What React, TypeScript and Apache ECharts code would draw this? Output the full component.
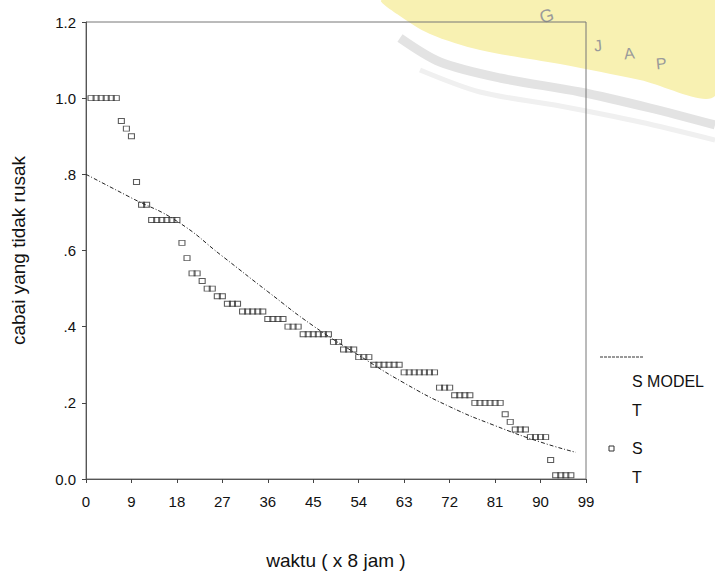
import React, { useEffect, useRef } from "react";
import * as echarts from "echarts";

// Observed S (scatter) values
const sX = [1, 2, 3, 4, 5, 6, 7, 8, 9, 10, 11, 12, 13, 14, 15, 16, 17, 18, 19, 20, 21, 22, 23, 24, 25, 26, 27, 28, 29, 30,
  31, 32, 33, 34, 35, 36, 37, 38, 39, 40, 41, 42, 43, 44, 45, 46, 47, 48, 49, 50, 51, 52, 53, 54, 55, 56, 57, 58, 59, 60,
  61, 62, 63, 64, 65, 66, 67, 68, 69, 70, 71, 72, 73, 74, 75, 76, 77, 78, 79, 80, 81, 82, 83, 84, 85, 86, 87, 88, 89, 90,
  91, 92, 93, 94, 95, 96];
const sY = [1.0, 1.0, 1.0, 1.0, 1.0, 1.0, 0.94, 0.92, 0.9, 0.78, 0.72, 0.72, 0.68, 0.68, 0.68, 0.68, 0.68, 0.68, 0.62, 0.58,
  0.54, 0.54, 0.52, 0.5, 0.5, 0.48, 0.48, 0.46, 0.46, 0.46, 0.44, 0.44, 0.44, 0.44, 0.44, 0.42, 0.42, 0.42, 0.42, 0.4,
  0.4, 0.4, 0.38, 0.38, 0.38, 0.38, 0.38, 0.38, 0.36, 0.36, 0.34, 0.34, 0.34, 0.32, 0.32, 0.32, 0.3, 0.3, 0.3, 0.3,
  0.3, 0.3, 0.28, 0.28, 0.28, 0.28, 0.28, 0.28, 0.28, 0.24, 0.24, 0.24, 0.22, 0.22, 0.22, 0.22, 0.2, 0.2, 0.2, 0.2,
  0.2, 0.2, 0.17, 0.15, 0.13, 0.13, 0.13, 0.11, 0.11, 0.11, 0.11, 0.05, 0.01, 0.01, 0.01, 0.01];

// Model curve read-off points
const mX = [0, 9, 18, 27, 36, 45, 54, 63, 72, 81, 90, 97];
const mY = [0.8, 0.738, 0.677, 0.585, 0.492, 0.402, 0.325, 0.252, 0.19, 0.14, 0.097, 0.07];

const xTicks = { min: 0, max: 99, interval: 9 };
const yTicks = { min: 0, max: 1.2, interval: 0.2 };

const yAxisTitle = "cabai yang tidak rusak";
const xAxisTitle = "waktu ( x 8 jam )";
const legendLine = ["S MODEL", "T"];
const legendMark = ["S", "T"];

const FONT = "'Liberation Sans', Arial, sans-serif";

export default function App() {
  const ref = useRef<HTMLDivElement>(null);
  useEffect(() => {
    if (!ref.current) return;
    const chart = echarts.init(ref.current, null, { renderer: "svg" });
    const txt = (text: string, x: number, y: number, size = 15, extra: any = {}) => ({
      type: "text",
      x,
      y,
      style: { text, fill: "#111", font: `${size}px ${FONT}`, textVerticalAlign: "middle", ...extra },
    });
    chart.setOption({
      animation: false,
      backgroundColor: "#fff",
      grid: {
        left: 86,
        right: 129,
        top: 22,
        bottom: 84,
        show: true,
        borderColor: "#777",
        borderWidth: 1,
      },
      xAxis: {
        type: "value",
        ...xTicks,
        name: xAxisTitle,
        nameLocation: "middle",
        nameGap: 72,
        nameTextStyle: { fontSize: 19, color: "#111", fontFamily: FONT },
        axisLine: { show: true, onZero: false, lineStyle: { color: "#555", width: 1 } },
        axisTick: { show: true, length: 4, lineStyle: { color: "#444" } },
        axisLabel: { fontSize: 15, color: "#111", fontFamily: FONT, margin: 15 },
        splitLine: { show: false },
      },
      yAxis: {
        type: "value",
        ...yTicks,
        name: yAxisTitle,
        nameLocation: "middle",
        nameGap: 58,
        nameRotate: 90,
        nameTextStyle: { fontSize: 19, color: "#111", fontFamily: FONT },
        axisLine: { show: true, onZero: false, lineStyle: { color: "#555", width: 1 } },
        axisTick: { show: true, length: 4, lineStyle: { color: "#444" } },
        axisLabel: {
          fontSize: 15,
          color: "#111",
          fontFamily: FONT,
          margin: 10,
          formatter: (v: number) => {
            if (v === 0) return "0.0";
            const s = v.toFixed(1);
            return v < 1 ? s.replace(/^0/, "") : s;
          },
        },
        splitLine: { show: false },
      },
      graphic: [
        {
          type: "polygon",
          silent: true,
          z: -10,
          shape: {
            smooth: 0.3,
            points: [[382, 0], [715, 0], [715, 96], [640, 80], [560, 64], [480, 50], [430, 34], [397, 14]],
          },
          style: { fill: "#f8f1b2" },
        },
        {
          type: "polyline",
          silent: true,
          z: -9,
          shape: { smooth: 0.3, points: [[400, 38], [440, 62], [500, 78], [580, 92], [650, 108], [715, 125]] },
          style: { stroke: "#e3e3e3", lineWidth: 9, fill: null },
        },
        {
          type: "polyline",
          silent: true,
          z: -9,
          shape: { smooth: 0.3, points: [[420, 70], [480, 92], [560, 106], [640, 122], [715, 140]] },
          style: { stroke: "#f0f0f0", lineWidth: 5, fill: null },
        },
        { ...txt("G", 540, 18, 18, { fill: "#9a9a9a" }), rotation: 0.3, z: -8 },
        { ...txt("J", 594, 46, 16, { fill: "#9a9a9a" }), rotation: 0.1, z: -8 },
        { ...txt("A", 624, 54, 16, { fill: "#9a9a9a" }), rotation: 0.1, z: -8 },
        { ...txt("P", 656, 64, 16, { fill: "#9a9a9a" }), rotation: 0.1, z: -8 },
        {
          type: "line",
          shape: { x1: 600, y1: 357, x2: 643, y2: 357 },
          style: { stroke: "#333", lineWidth: 1, lineDash: [3, 1] },
        },
        txt(legendLine[0], 632, 381, 16),
        txt(legendLine[1], 632, 410, 16),
        {
          type: "rect",
          shape: { x: 609, y: 446, width: 5, height: 5 },
          style: { fill: "none", stroke: "#333", lineWidth: 1 },
        },
        txt(legendMark[0], 632, 448, 16),
        txt(legendMark[1], 632, 477, 16),
      ],
      series: [
        {
          name: "S MODEL T",
          type: "line",
          data: mX.map((x, i) => [x, mY[i]]),
          smooth: 0.5,
          showSymbol: false,
          z: 3,
          lineStyle: { color: "#222", width: 1, type: [4, 2, 1, 2] },
        },
        {
          name: "S T",
          type: "scatter",
          data: sX.map((x, i) => [x, sY[i]]),
          symbol: "rect",
          symbolSize: [6, 5],
          z: 2,
          itemStyle: { color: "rgba(0,0,0,0)", borderColor: "#333", borderWidth: 1 },
        },
      ],
    });
    return () => chart.dispose();
  }, []);
  return (
    <div
      ref={ref}
      style={{ position: "fixed", left: 0, top: 0, width: 715, height: 575 }}
    />
  );
}
